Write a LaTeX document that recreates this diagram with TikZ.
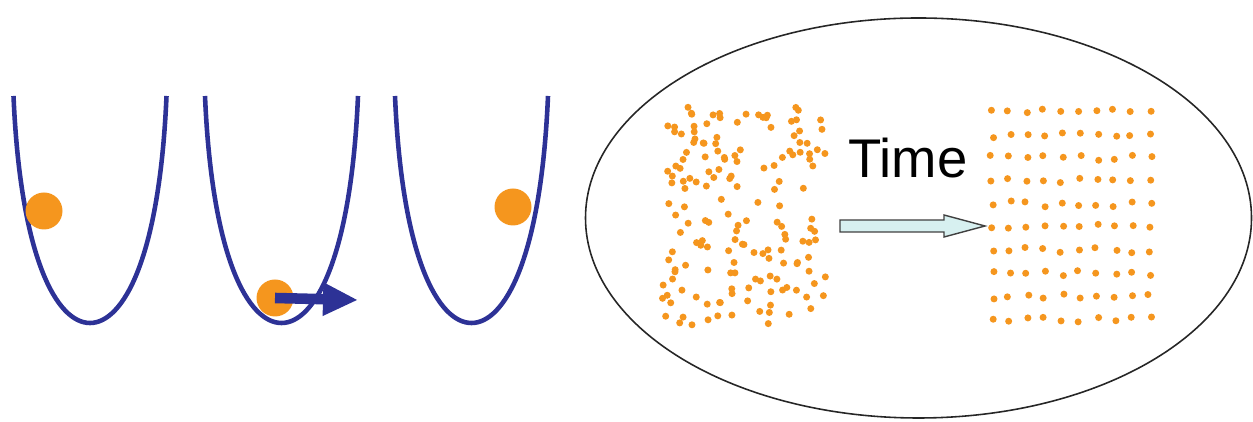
\documentclass[tikz,border=0pt]{standalone}
\usepackage{fontspec}
\setmainfont{Liberation Sans}
\usetikzlibrary{arrows.meta}
\definecolor{wellblue}{RGB}{45,50,150}
\definecolor{ballorange}{RGB}{245,150,30}
\definecolor{arrowfill}{RGB}{215,240,240}
\tikzset{
    well/.style={wellblue,line width=2.6pt},
    ball/.style={circle,fill=ballorange,inner sep=0pt,minimum size=0.74cm},
    grain/.style={fill=ballorange}
}
\begin{document}
\begin{tikzpicture}
        \useasboundingbox (0,0) rectangle (25.06,8.44);

        % three wells
        \foreach \cx in {1.80, 5.63, 9.43}
                \draw[well] (\cx-1.53,6.52) .. controls (\cx-1.39,3.26) and (\cx-0.66,1.98) .. (\cx,1.98)
                        .. controls (\cx+0.66,1.98) and (\cx+1.39,3.26) .. (\cx+1.53,6.52);
        \node[ball] (b1) at (0.88,4.22) {};
        \node[ball] (b2) at (5.5,2.48) {};
        \node[ball] (b3) at (10.26,4.3) {};
        \coordinate (push) at (7.16,2.44);
        \draw[wellblue,line width=6pt,-{Triangle[length=0.7cm,width=0.62cm]}] (b2.center) -- (push);

        \begin{scope}
                \draw[line width=0.9pt,black!85] (18.37,4.08) ellipse [x radius=6.66, y radius=4.0];
                \node[font=\fontsize{31}{36}\selectfont] (time) at (18.16,5.28) {Time};
                \coordinate (from) at (16.8,3.92);
                \coordinate (to) at (19.7,3.92);
                \draw[fill=arrowfill,draw=black!75,line width=0.8pt] (from) ++(0,0.12) -- ++(2.08,0) -- ++(0,0.1) -- (to)
                        -- ++(-0.82,-0.22) -- ++(0,0.1) -- ++(-2.08,0) -- cycle;

                % disordered
                \pgfmathsetseed{7}
                \foreach \k in {1,...,165}{
                        \pgfmathsetmacro\px{13.25+3.3*rnd}
                        \pgfmathsetmacro\py{1.9+4.4*rnd}
                        \fill[grain] (\px,\py) circle (0.07);
                }
                % ordered
                \foreach \i in {0,...,9}
                        \foreach \j in {0,...,9}{
                                \pgfmathsetmacro\px{19.84+0.35*\i+0.05*rand}
                                \pgfmathsetmacro\py{6.2-0.46*\j+0.06*rand}
                                \fill[grain] (\px,\py) circle (0.07);
                        }
        \end{scope}
\end{tikzpicture}
\end{document}
